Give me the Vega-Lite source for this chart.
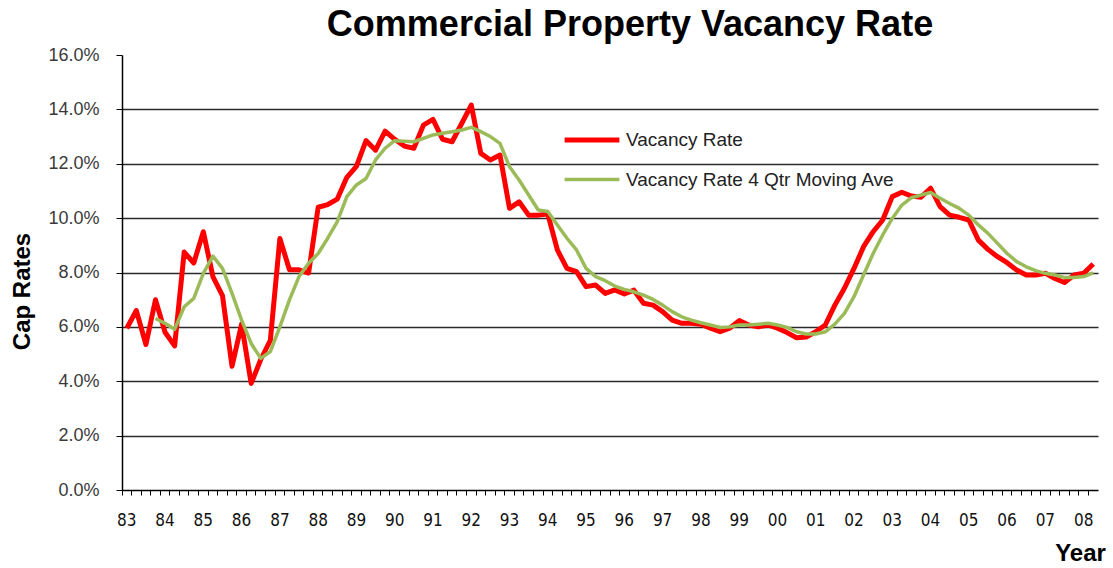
{
  "$schema": "https://vega.github.io/schema/vega-lite/v6.json",
  "width": 976,
  "height": 435,
  "autosize": {"type": "none"},
  "padding": {"left": 122, "top": 55, "right": 15, "bottom": 78},
  "background": "white",
  "title": {"text": "Commercial Property Vacancy Rate", "font": "Liberation Sans", "fontSize": 36, "fontWeight": "bold", "color": "#000000", "anchor": "middle", "dx": 20, "dy": 10, "offset": 12},
  "data": {"values": [
    {"p":"83Q1","Vacancy Rate":5.95,"Vacancy Rate 4 Qtr Moving Ave":null},
    {"p":"83Q2","Vacancy Rate":6.6,"Vacancy Rate 4 Qtr Moving Ave":null},
    {"p":"83Q3","Vacancy Rate":5.35,"Vacancy Rate 4 Qtr Moving Ave":null},
    {"p":"83Q4","Vacancy Rate":7.0,"Vacancy Rate 4 Qtr Moving Ave":6.31},
    {"p":"84Q1","Vacancy Rate":5.8,"Vacancy Rate 4 Qtr Moving Ave":6.13},
    {"p":"84Q2","Vacancy Rate":5.3,"Vacancy Rate 4 Qtr Moving Ave":5.91},
    {"p":"84Q3","Vacancy Rate":8.75,"Vacancy Rate 4 Qtr Moving Ave":6.74},
    {"p":"84Q4","Vacancy Rate":8.35,"Vacancy Rate 4 Qtr Moving Ave":7.05},
    {"p":"85Q1","Vacancy Rate":9.5,"Vacancy Rate 4 Qtr Moving Ave":7.97},
    {"p":"85Q2","Vacancy Rate":7.85,"Vacancy Rate 4 Qtr Moving Ave":8.6},
    {"p":"85Q3","Vacancy Rate":7.15,"Vacancy Rate 4 Qtr Moving Ave":8.15},
    {"p":"85Q4","Vacancy Rate":4.55,"Vacancy Rate 4 Qtr Moving Ave":7.23},
    {"p":"86Q1","Vacancy Rate":6.1,"Vacancy Rate 4 Qtr Moving Ave":6.25},
    {"p":"86Q2","Vacancy Rate":3.92,"Vacancy Rate 4 Qtr Moving Ave":5.39},
    {"p":"86Q3","Vacancy Rate":4.8,"Vacancy Rate 4 Qtr Moving Ave":4.84},
    {"p":"86Q4","Vacancy Rate":5.5,"Vacancy Rate 4 Qtr Moving Ave":5.09},
    {"p":"87Q1","Vacancy Rate":9.25,"Vacancy Rate 4 Qtr Moving Ave":6.0},
    {"p":"87Q2","Vacancy Rate":8.1,"Vacancy Rate 4 Qtr Moving Ave":6.99},
    {"p":"87Q3","Vacancy Rate":8.1,"Vacancy Rate 4 Qtr Moving Ave":7.85},
    {"p":"87Q4","Vacancy Rate":7.98,"Vacancy Rate 4 Qtr Moving Ave":8.34},
    {"p":"88Q1","Vacancy Rate":10.4,"Vacancy Rate 4 Qtr Moving Ave":8.7},
    {"p":"88Q2","Vacancy Rate":10.5,"Vacancy Rate 4 Qtr Moving Ave":9.26},
    {"p":"88Q3","Vacancy Rate":10.7,"Vacancy Rate 4 Qtr Moving Ave":9.87},
    {"p":"88Q4","Vacancy Rate":11.5,"Vacancy Rate 4 Qtr Moving Ave":10.79},
    {"p":"89Q1","Vacancy Rate":11.9,"Vacancy Rate 4 Qtr Moving Ave":11.22},
    {"p":"89Q2","Vacancy Rate":12.85,"Vacancy Rate 4 Qtr Moving Ave":11.46},
    {"p":"89Q3","Vacancy Rate":12.5,"Vacancy Rate 4 Qtr Moving Ave":12.14},
    {"p":"89Q4","Vacancy Rate":13.2,"Vacancy Rate 4 Qtr Moving Ave":12.57},
    {"p":"90Q1","Vacancy Rate":12.9,"Vacancy Rate 4 Qtr Moving Ave":12.85},
    {"p":"90Q2","Vacancy Rate":12.65,"Vacancy Rate 4 Qtr Moving Ave":12.83},
    {"p":"90Q3","Vacancy Rate":12.57,"Vacancy Rate 4 Qtr Moving Ave":12.81},
    {"p":"90Q4","Vacancy Rate":13.42,"Vacancy Rate 4 Qtr Moving Ave":12.93},
    {"p":"91Q1","Vacancy Rate":13.63,"Vacancy Rate 4 Qtr Moving Ave":13.06},
    {"p":"91Q2","Vacancy Rate":12.9,"Vacancy Rate 4 Qtr Moving Ave":13.12},
    {"p":"91Q3","Vacancy Rate":12.81,"Vacancy Rate 4 Qtr Moving Ave":13.18},
    {"p":"91Q4","Vacancy Rate":13.48,"Vacancy Rate 4 Qtr Moving Ave":13.24},
    {"p":"92Q1","Vacancy Rate":14.16,"Vacancy Rate 4 Qtr Moving Ave":13.34},
    {"p":"92Q2","Vacancy Rate":12.38,"Vacancy Rate 4 Qtr Moving Ave":13.18},
    {"p":"92Q3","Vacancy Rate":12.14,"Vacancy Rate 4 Qtr Moving Ave":13.0},
    {"p":"92Q4","Vacancy Rate":12.32,"Vacancy Rate 4 Qtr Moving Ave":12.75},
    {"p":"93Q1","Vacancy Rate":10.36,"Vacancy Rate 4 Qtr Moving Ave":11.89},
    {"p":"93Q2","Vacancy Rate":10.6,"Vacancy Rate 4 Qtr Moving Ave":11.4},
    {"p":"93Q3","Vacancy Rate":10.11,"Vacancy Rate 4 Qtr Moving Ave":10.85},
    {"p":"93Q4","Vacancy Rate":10.11,"Vacancy Rate 4 Qtr Moving Ave":10.3},
    {"p":"94Q1","Vacancy Rate":10.15,"Vacancy Rate 4 Qtr Moving Ave":10.24},
    {"p":"94Q2","Vacancy Rate":8.83,"Vacancy Rate 4 Qtr Moving Ave":9.75},
    {"p":"94Q3","Vacancy Rate":8.15,"Vacancy Rate 4 Qtr Moving Ave":9.26},
    {"p":"94Q4","Vacancy Rate":8.03,"Vacancy Rate 4 Qtr Moving Ave":8.83},
    {"p":"95Q1","Vacancy Rate":7.48,"Vacancy Rate 4 Qtr Moving Ave":8.15},
    {"p":"95Q2","Vacancy Rate":7.54,"Vacancy Rate 4 Qtr Moving Ave":7.85},
    {"p":"95Q3","Vacancy Rate":7.23,"Vacancy Rate 4 Qtr Moving Ave":7.7},
    {"p":"95Q4","Vacancy Rate":7.36,"Vacancy Rate 4 Qtr Moving Ave":7.5},
    {"p":"96Q1","Vacancy Rate":7.21,"Vacancy Rate 4 Qtr Moving Ave":7.38},
    {"p":"96Q2","Vacancy Rate":7.35,"Vacancy Rate 4 Qtr Moving Ave":7.29},
    {"p":"96Q3","Vacancy Rate":6.87,"Vacancy Rate 4 Qtr Moving Ave":7.17},
    {"p":"96Q4","Vacancy Rate":6.8,"Vacancy Rate 4 Qtr Moving Ave":7.01},
    {"p":"97Q1","Vacancy Rate":6.56,"Vacancy Rate 4 Qtr Moving Ave":6.8},
    {"p":"97Q2","Vacancy Rate":6.25,"Vacancy Rate 4 Qtr Moving Ave":6.56},
    {"p":"97Q3","Vacancy Rate":6.13,"Vacancy Rate 4 Qtr Moving Ave":6.37},
    {"p":"97Q4","Vacancy Rate":6.13,"Vacancy Rate 4 Qtr Moving Ave":6.25},
    {"p":"98Q1","Vacancy Rate":6.1,"Vacancy Rate 4 Qtr Moving Ave":6.15},
    {"p":"98Q2","Vacancy Rate":5.95,"Vacancy Rate 4 Qtr Moving Ave":6.07},
    {"p":"98Q3","Vacancy Rate":5.82,"Vacancy Rate 4 Qtr Moving Ave":5.98},
    {"p":"98Q4","Vacancy Rate":5.95,"Vacancy Rate 4 Qtr Moving Ave":6.0},
    {"p":"99Q1","Vacancy Rate":6.23,"Vacancy Rate 4 Qtr Moving Ave":6.07},
    {"p":"99Q2","Vacancy Rate":6.07,"Vacancy Rate 4 Qtr Moving Ave":6.07},
    {"p":"99Q3","Vacancy Rate":6.0,"Vacancy Rate 4 Qtr Moving Ave":6.1},
    {"p":"99Q4","Vacancy Rate":6.07,"Vacancy Rate 4 Qtr Moving Ave":6.13},
    {"p":"00Q1","Vacancy Rate":5.95,"Vacancy Rate 4 Qtr Moving Ave":6.07},
    {"p":"00Q2","Vacancy Rate":5.79,"Vacancy Rate 4 Qtr Moving Ave":5.98},
    {"p":"00Q3","Vacancy Rate":5.6,"Vacancy Rate 4 Qtr Moving Ave":5.82},
    {"p":"00Q4","Vacancy Rate":5.63,"Vacancy Rate 4 Qtr Moving Ave":5.74},
    {"p":"01Q1","Vacancy Rate":5.82,"Vacancy Rate 4 Qtr Moving Ave":5.74},
    {"p":"01Q2","Vacancy Rate":6.07,"Vacancy Rate 4 Qtr Moving Ave":5.82},
    {"p":"01Q3","Vacancy Rate":6.8,"Vacancy Rate 4 Qtr Moving Ave":6.1},
    {"p":"01Q4","Vacancy Rate":7.42,"Vacancy Rate 4 Qtr Moving Ave":6.5},
    {"p":"02Q1","Vacancy Rate":8.15,"Vacancy Rate 4 Qtr Moving Ave":7.11},
    {"p":"02Q2","Vacancy Rate":8.95,"Vacancy Rate 4 Qtr Moving Ave":7.91},
    {"p":"02Q3","Vacancy Rate":9.5,"Vacancy Rate 4 Qtr Moving Ave":8.7},
    {"p":"02Q4","Vacancy Rate":9.93,"Vacancy Rate 4 Qtr Moving Ave":9.38},
    {"p":"03Q1","Vacancy Rate":10.79,"Vacancy Rate 4 Qtr Moving Ave":9.99},
    {"p":"03Q2","Vacancy Rate":10.95,"Vacancy Rate 4 Qtr Moving Ave":10.48},
    {"p":"03Q3","Vacancy Rate":10.81,"Vacancy Rate 4 Qtr Moving Ave":10.75},
    {"p":"03Q4","Vacancy Rate":10.77,"Vacancy Rate 4 Qtr Moving Ave":10.85},
    {"p":"04Q1","Vacancy Rate":11.1,"Vacancy Rate 4 Qtr Moving Ave":10.94},
    {"p":"04Q2","Vacancy Rate":10.42,"Vacancy Rate 4 Qtr Moving Ave":10.73},
    {"p":"04Q3","Vacancy Rate":10.11,"Vacancy Rate 4 Qtr Moving Ave":10.54},
    {"p":"04Q4","Vacancy Rate":10.03,"Vacancy Rate 4 Qtr Moving Ave":10.36},
    {"p":"05Q1","Vacancy Rate":9.93,"Vacancy Rate 4 Qtr Moving Ave":10.11},
    {"p":"05Q2","Vacancy Rate":9.19,"Vacancy Rate 4 Qtr Moving Ave":9.75},
    {"p":"05Q3","Vacancy Rate":8.85,"Vacancy Rate 4 Qtr Moving Ave":9.44},
    {"p":"05Q4","Vacancy Rate":8.58,"Vacancy Rate 4 Qtr Moving Ave":9.07},
    {"p":"06Q1","Vacancy Rate":8.36,"Vacancy Rate 4 Qtr Moving Ave":8.7},
    {"p":"06Q2","Vacancy Rate":8.09,"Vacancy Rate 4 Qtr Moving Ave":8.4},
    {"p":"06Q3","Vacancy Rate":7.91,"Vacancy Rate 4 Qtr Moving Ave":8.21},
    {"p":"06Q4","Vacancy Rate":7.91,"Vacancy Rate 4 Qtr Moving Ave":8.07},
    {"p":"07Q1","Vacancy Rate":7.97,"Vacancy Rate 4 Qtr Moving Ave":7.97},
    {"p":"07Q2","Vacancy Rate":7.78,"Vacancy Rate 4 Qtr Moving Ave":7.91},
    {"p":"07Q3","Vacancy Rate":7.63,"Vacancy Rate 4 Qtr Moving Ave":7.82},
    {"p":"07Q4","Vacancy Rate":7.91,"Vacancy Rate 4 Qtr Moving Ave":7.82},
    {"p":"08Q1","Vacancy Rate":7.97,"Vacancy Rate 4 Qtr Moving Ave":7.85},
    {"p":"08Q2","Vacancy Rate":8.31,"Vacancy Rate 4 Qtr Moving Ave":7.99}
  ]},
  "transform": [
    {"fold": ["Vacancy Rate", "Vacancy Rate 4 Qtr Moving Ave"], "as": ["series", "value"]},
    {"filter": "datum.value != null"}
  ],
  "mark": {"type": "line", "strokeJoin": "round", "clip": true},
  "encoding": {
    "x": {
      "field": "p", "type": "ordinal", "sort": null, "bandPosition": 0.5,
      "scale": {"type": "band", "paddingInner": 0, "paddingOuter": 0},
      "axis": {
        "title": "Year",
        "labelExpr": "slice(datum.value, 2) == 'Q1' ? slice(datum.value, 0, 2) : ''",
        "bandPosition": 0, "labelOffset": 0, "labelAngle": 0, "labelOverlap": false,
        "labelPadding": 17, "labelFont": "Liberation Sans Narrow, Arial Narrow, DejaVu Sans Condensed, Liberation Sans",
        "labelFontSize": 17, "labelColor": "#111111", "labelBaseline": "top",
        "tickSize": 5, "tickColor": "#000000", "tickWidth": 1,
        "domainColor": "#000000", "domainWidth": 1.5, "grid": false,
        "titleFont": "Liberation Sans", "titleFontWeight": "bold", "titleFontSize": 24, "titleColor": "#000000",
        "titleX": 958, "titleY": 63, "titleAlign": "center", "titleBaseline": "middle", "titleAnchor": null
      }
    },
    "y": {
      "field": "value", "type": "quantitative",
      "scale": {"domain": [0, 16], "nice": false, "zero": true},
      "axis": {
        "title": "Cap Rates",
        "values": [0, 2, 4, 6, 8, 10, 12, 14, 16],
        "labelExpr": "format(datum.value, '.1f') + '%'",
        "labelFont": "Liberation Sans", "labelFontSize": 18, "labelColor": "#3a3a3a", "labelPadding": 17,
        "tickSize": 6, "tickColor": "#000000", "tickWidth": 1,
        "domainColor": "#000000", "domainWidth": 1.5,
        "grid": true, "gridColor": "#2a2a2a", "gridWidth": 1.5,
        "gridOpacity": {"condition": {"test": "datum.value == 0 || datum.value == 16", "value": 0}, "value": 1},
        "titleFont": "Liberation Sans", "titleFontWeight": "bold", "titleFontSize": 24, "titleColor": "#000000",
        "titleX": -100, "titleY": 236, "titleAngle": -90, "titleAlign": "center", "titleBaseline": "middle", "titleAnchor": null
      }
    },
    "color": {
      "field": "series", "type": "nominal",
      "scale": {"domain": ["Vacancy Rate", "Vacancy Rate 4 Qtr Moving Ave"], "range": ["#FF0000", "#9BBB59"]},
      "legend": {
        "title": null, "orient": "none", "legendX": 440, "legendY": 55,
        "symbolType": "stroke", "symbolSize": 3000, "symbolStrokeWidth": 3.5,
        "labelFont": "Liberation Sans", "labelFontSize": 19, "labelColor": "#222222", "labelOffset": 4,
        "labelLimit": 0, "rowPadding": -14
      }
    },
    "strokeWidth": {
      "field": "series", "type": "ordinal",
      "scale": {"domain": ["Vacancy Rate", "Vacancy Rate 4 Qtr Moving Ave"], "range": [5, 3.5]},
      "legend": null
    }
  },
  "config": {"view": {"stroke": null}}
}
